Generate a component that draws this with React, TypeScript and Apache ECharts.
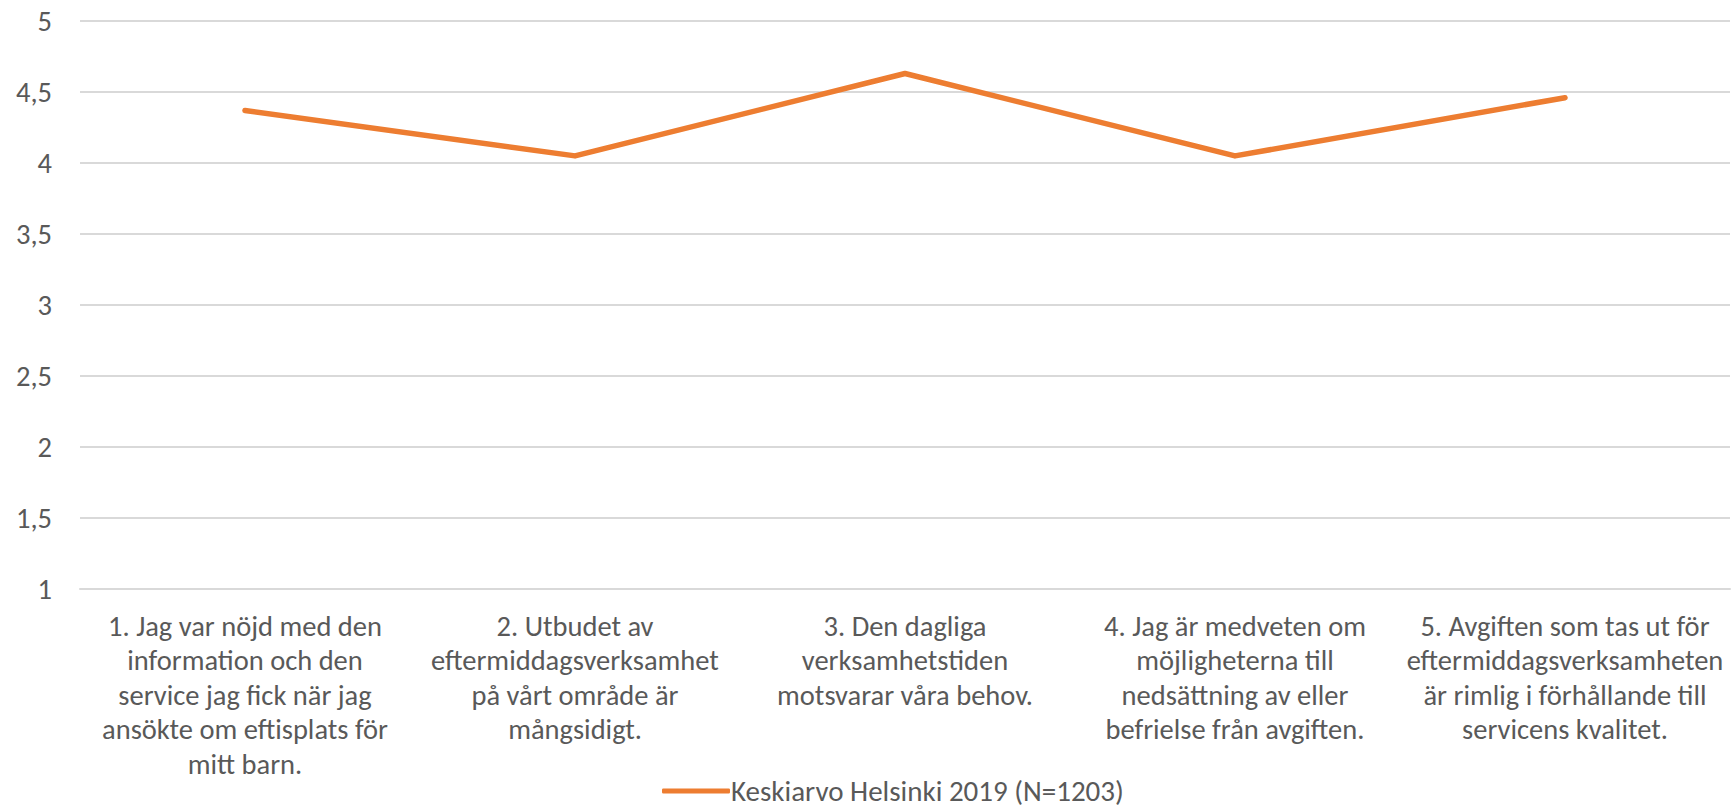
import React, { useEffect, useRef } from "react";
import * as echarts from "echarts";

const categories = [
  "1. Jag var nöjd med den\ninformation och den\nservice jag fick när jag\nansökte om eftisplats för\nmitt barn.",
  "2. Utbudet av\neftermiddagsverksamhet\npå vårt område är\nmångsidigt.",
  "3. Den dagliga\nverksamhetstiden\nmotsvarar våra behov.",
  "4. Jag är medveten om\nmöjligheterna till\nnedsättning av eller\nbefrielse från avgiften.",
  "5. Avgiften som tas ut för\neftermiddagsverksamheten\när rimlig i förhållande till\nservicens kvalitet.",
];
const seriesName = "Keskiarvo Helsinki 2019 (N=1203)";
const values = [4.37, 4.05, 4.63, 4.05, 4.46];

const FONT = "Carlito, Lato, 'Open Sans', sans-serif";
const TEXT = "#595959";

export default function App() {
  const ref = useRef<HTMLDivElement>(null);
  useEffect(() => {
    if (!ref.current) return;
    const chart = echarts.init(ref.current, null, { renderer: "svg" });
    chart.setOption({
      animation: false,
      backgroundColor: "#ffffff",
      textStyle: { fontFamily: FONT },
      grid: { left: 80, right: 5, top: 21, bottom: 222, containLabel: false },
      legend: {
        data: [{ name: seriesName, icon: "roundRect" }],
        left: 662,
        top: 776,
        padding: 0,
        itemWidth: 68,
        itemHeight: 5,
        textStyle: {
          fontFamily: FONT,
          fontSize: 29,
          lineHeight: 30,
          color: TEXT,
          padding: [0, 0, 0, -4],
        },
      },
      xAxis: {
        type: "category",
        data: categories,
        boundaryGap: true,
        axisLine: { show: true, lineStyle: { color: "#D9D9D9", width: 2 } },
        axisTick: { show: false },
        axisLabel: {
          interval: 0,
          margin: 20,
          fontFamily: FONT,
          fontSize: 28.5,
          lineHeight: 34.5,
          color: TEXT,
          align: "center",
        },
      },
      yAxis: {
        type: "value",
        min: 1,
        max: 5,
        interval: 0.5,
        axisLine: { show: false },
        axisTick: { show: false },
        splitLine: { lineStyle: { color: "#D9D9D9", width: 2 } },
        axisLabel: {
          margin: 28,
          fontFamily: FONT,
          fontSize: 28.5,
          color: TEXT,
          formatter: (v: number) => String(v).replace(".", ","),
        },
      },
      series: [
        {
          name: seriesName,
          type: "line",
          data: values,
          symbol: "none",
          lineStyle: { color: "#ED7D31", width: 5.5, cap: "round", join: "round" },
          itemStyle: { color: "#ED7D31" },
        },
      ],
    });
    return () => chart.dispose();
  }, []);
  return (
    <div
      ref={ref}
      style={{ position: "fixed", left: 0, top: 0, width: 1735, height: 811 }}
    />
  );
}
